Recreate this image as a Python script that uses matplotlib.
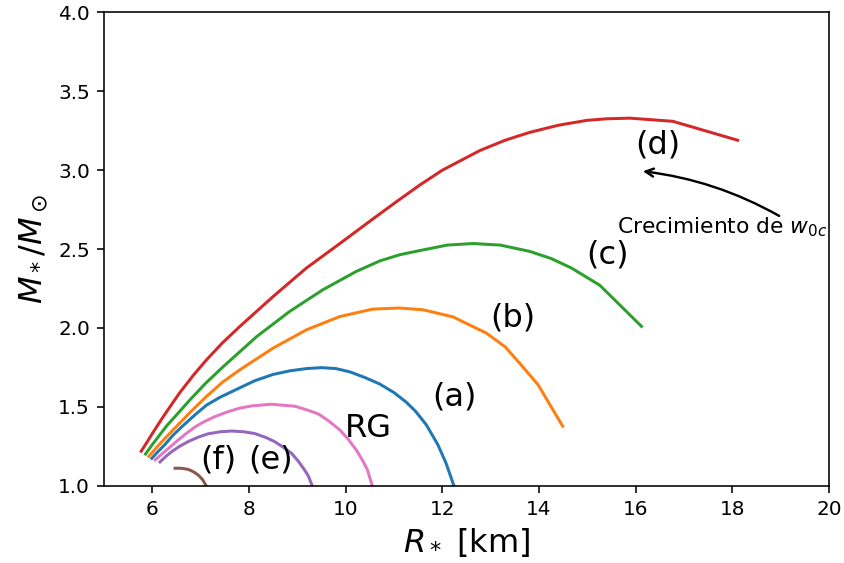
import matplotlib
matplotlib.use("Agg")
import matplotlib.pyplot as plt

# (a)
R_a = [5.99, 6.1, 6.26, 6.43, 6.6, 6.88, 7.12, 7.4, 7.81, 8.12, 8.5, 8.85, 9.19, 9.5, 9.8, 10.1, 10.4, 10.7,
       11.0, 11.25, 11.45, 11.67, 11.91, 12.08, 12.25]
M_a = [1.173, 1.21, 1.26, 1.32, 1.37, 1.448, 1.51, 1.56, 1.62, 1.665, 1.705, 1.728, 1.742, 1.748, 1.742, 1.72,
       1.685, 1.645, 1.59, 1.53, 1.47, 1.385, 1.258, 1.14, 0.99]
# (b)
R_b = [5.93, 6.2, 6.43, 6.8, 7.12, 7.45, 7.81, 8.5, 9.19, 9.88, 10.56, 11.1, 11.6, 12.22, 12.91, 13.3, 13.6,
       13.98, 14.49]
M_b = [1.186, 1.28, 1.353, 1.47, 1.565, 1.655, 1.734, 1.872, 1.988, 2.072, 2.119, 2.126, 2.115, 2.07, 1.967,
       1.88, 1.776, 1.64, 1.377]
# (c)
R_c = [5.86, 6.0, 6.3, 6.55, 6.78, 7.1, 7.47, 8.16, 8.84, 9.53, 10.22, 10.71, 11.12, 11.53, 12.1, 12.64, 13.2,
       13.81, 14.25, 14.67, 15.26, 16.12]
M_c = [1.20, 1.26, 1.38, 1.465, 1.544, 1.648, 1.755, 1.945, 2.104, 2.242, 2.358, 2.425, 2.464, 2.49, 2.525,
       2.535, 2.525, 2.485, 2.44, 2.38, 2.27, 2.01]
# (d)
R_d = [5.77, 5.9, 6.0, 6.2, 6.4, 6.57, 6.85, 7.12, 7.45, 7.81, 8.5, 9.19, 9.88, 10.56, 11.05, 11.53, 12.0,
       12.78, 13.3, 13.81, 14.4, 14.99, 15.4, 15.88, 16.77, 18.11]
M_d = [1.218, 1.28, 1.33, 1.425, 1.515, 1.59, 1.70, 1.797, 1.905, 2.009, 2.199, 2.38, 2.535, 2.69, 2.80,
       2.905, 3.0, 3.125, 3.19, 3.24, 3.285, 3.316, 3.326, 3.33, 3.31, 3.19]
# (e)
R_e = [6.16, 6.28, 6.4, 6.57, 6.74, 6.95, 7.15, 7.4, 7.64, 7.9, 8.12, 8.35, 8.53, 8.7, 8.88, 9.02, 9.15,
       9.23, 9.32]
M_e = [1.15, 1.185, 1.215, 1.25, 1.279, 1.307, 1.328, 1.341, 1.346, 1.341, 1.33, 1.305, 1.279, 1.245, 1.205,
       1.155, 1.099, 1.06, 0.99]
# (f)
R_f = [6.47, 6.6, 6.74, 6.85, 6.95, 7.04, 7.13]
M_f = [1.11, 1.11, 1.103, 1.088, 1.067, 1.038, 0.99]
# RG
R_rg = [6.06, 6.16, 6.33, 6.5, 6.7, 6.9, 7.09, 7.3, 7.57, 7.81, 8.05, 8.46, 8.95, 9.2, 9.43, 9.65, 9.88,
        10.05, 10.22, 10.35, 10.45, 10.56]
M_rg = [1.163, 1.19, 1.235, 1.28, 1.33, 1.375, 1.408, 1.438, 1.469, 1.491, 1.505, 1.516, 1.503, 1.48, 1.455,
        1.41, 1.353, 1.295, 1.226, 1.16, 1.1, 0.99]

x_ticks = [6, 8, 10, 12, 14, 16, 18, 20]
y_ticks = [1.0, 1.5, 2.0, 2.5, 3.0, 3.5, 4.0]

fig = plt.figure(figsize=(844/144, 563/144), dpi=144)
ax = fig.add_axes([0.1232, 0.1375, 0.8590, 0.8403])

ax.plot(R_a, M_a, color='tab:blue')
ax.plot(R_b, M_b, color='tab:orange')
ax.plot(R_c, M_c, color='tab:green')
ax.plot(R_d, M_d, color='tab:red')
ax.plot(R_e, M_e, color='tab:purple')
ax.plot(R_f, M_f, color='tab:brown')
ax.plot(R_rg, M_rg, color='tab:pink')

lab_fs = 16
ax.text(12.25, 1.56, '(a)', fontsize=lab_fs, ha='center', va='center')
ax.text(13.45, 2.06, '(b)', fontsize=lab_fs, ha='center', va='center')
ax.text(15.42, 2.46, '(c)', fontsize=lab_fs, ha='center', va='center')
ax.text(16.45, 3.16, '(d)', fontsize=lab_fs, ha='center', va='center')
ax.text(10.48, 1.36, 'RG', fontsize=lab_fs, ha='center', va='center')
ax.text(8.45, 1.163, '(e)', fontsize=lab_fs, ha='center', va='center')
ax.text(7.36, 1.16, '(f)', fontsize=lab_fs, ha='center', va='center')

ax.annotate('', xy=(16.15, 2.993), xytext=(18.97, 2.71),
            arrowprops=dict(arrowstyle='->', color='black', lw=1.2,
                            shrinkA=0, shrinkB=0,
                            connectionstyle='arc3,rad=0.1'))
ax.text(15.62, 2.60, 'Crecimiento de $w_{0c}$', fontsize=10.85, ha='left', va='baseline')

ax.set_xlim(5, 20)
ax.set_ylim(1.0, 4.0)
ax.set_xticks(x_ticks)
ax.set_yticks(y_ticks)
ax.set_yticklabels([f'{v:.1f}' for v in y_ticks])
ax.set_xlabel('$R_*$ [km]', fontsize=16)
ax.set_ylabel('$M_*/M_\\odot$', fontsize=16)

fig.savefig('out.png', dpi=144)
